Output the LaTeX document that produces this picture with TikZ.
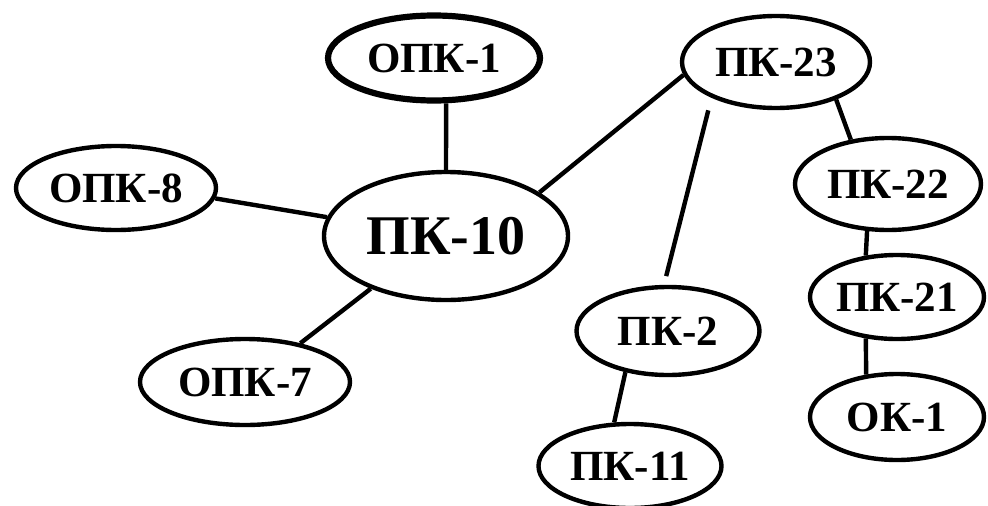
\documentclass[tikz,border=0pt]{standalone}
\usepackage{fontspec}
\setmainfont{Liberation Serif}
\usetikzlibrary{shapes.geometric}
\begin{document}
\begin{tikzpicture}[x=1pt,y=-1pt,
  comp/.style={ellipse,draw=black,line width=4.4pt,inner sep=0pt,font=\bfseries\fontsize{43}{45}\selectfont},
  link/.style={line width=4.4pt}]
\useasboundingbox (0,0) rectangle (988,506);
\node[comp,line width=6.2pt,minimum width=212pt,minimum height=85pt] (o1) at (434,58) {ОПК-1};
\node[comp,minimum width=200pt,minimum height=84pt] (o8) at (116,188) {ОПК-8};
\node[comp,minimum width=244pt,minimum height=128pt,font=\bfseries\fontsize{56}{58}\selectfont] (p10) at (446,236) {ПК-10};
\node[comp,minimum width=210pt,minimum height=86pt] (o7) at (245,382) {ОПК-7};
\node[comp,minimum width=188pt,minimum height=92pt] (p23) at (776,62) {ПК-23};
\node[comp,minimum width=186pt,minimum height=92pt] (p22) at (888,184) {ПК-22};
\node[comp,minimum width=174pt,minimum height=84pt] (p21) at (897,297) {ПК-21};
\node[comp,minimum width=174pt,minimum height=86pt] (ok1) at (897,417) {ОК-1};
\node[comp,minimum width=183pt,minimum height=88pt] (p2) at (668,331) {ПК-2};
\node[comp,minimum width=183pt,minimum height=84pt] (p11) at (630,466) {ПК-11};
\draw[link] (o1.285) -- (p10.north);
\draw[link] (o8.-6) -- (p10.171);
\draw[link] (o7.35) -- (p10.215);
\draw[link] (p10.25) -- (p23.188);
\draw[link,shorten <=13pt,shorten >=9pt] (p23.209) -- (p2.95);
\draw[link] (p23.-32) -- (p22.130);
\draw[link] (p22.246) -- (p21.127);
\draw[link] (p21.233) -- (ok1.126);
\draw[link] (p2.224) -- (p11.110);
\end{tikzpicture}
\end{document}
